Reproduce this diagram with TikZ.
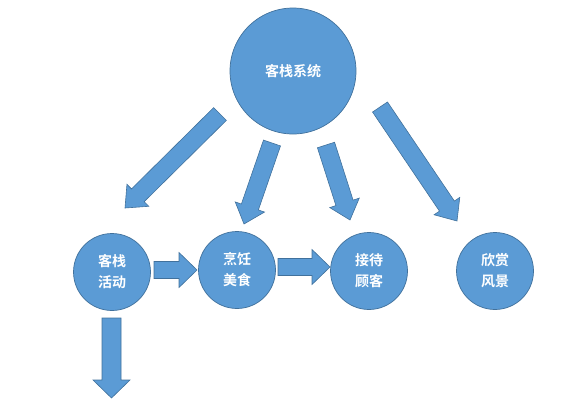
\documentclass[tikz,border=0pt]{standalone}
\usepackage{fontspec}
\newfontfamily\cjk{Noto Sans CJK SC Bold}
\usetikzlibrary{calc}
\definecolor{fillblue}{RGB}{91,155,213}
\definecolor{lineblue}{RGB}{65,113,156}
\begin{document}
\begin{tikzpicture}[
	x=1pt, y=-1pt,
	ball/.style={
		circle, draw=lineblue, fill=fillblue, line width=0.7pt,
		text=white, font=\cjk\fontsize{14}{21}\selectfont, align=center, inner sep=0pt
	},
	bigball/.style={ball, minimum size=126pt},
	smallball/.style={ball, minimum size=77pt},
	% #1 = half shaft width, #2 = half head width
	blockarr/.style 2 args={
		draw=lineblue, fill=fillblue, line width=0.6pt,
		to path={
			let \p1=($(\tikztotarget)-(\tikztostart)$),
			\n1={atan2(\y1,\x1)}, \n2={veclen(\x1,\y1)-18} in
			($(\tikztostart)+(\n1+90:#1)$) -- ++(\n1:\n2) -- ++(\n1+90:#2-#1)
			-- (\tikztotarget)
			-- ($(\tikztostart)+(\n1:\n2)+(\n1-90:#2)$) -- ++(\n1+90:#2-#1)
			-- ($(\tikztostart)+(\n1-90:#1)$) -- cycle
		}
	},
	slant/.style={blockarr={9pt}{15.5pt}},
	flat/.style={blockarr={8.5pt}{17.5pt}},
	]
	\useasboundingbox (0,0) rectangle (575,400);
	
	\node[bigball]   (sys)   at (293, 71)  {客栈系统};
	\node[smallball] (act)   at (112, 272) {客栈\\活动};
	\node[smallball] (food)  at (237, 270) {烹饪\\美食};
	\node[smallball] (guest) at (369, 271) {接待\\顾客};
	\node[smallball] (view)  at (495, 271) {欣赏\\风景};
	
	% ends of the block arrows
	\coordinate (a1) at (220, 114); \coordinate (a2) at (125, 208);
	\coordinate (b1) at (272, 143); \coordinate (b2) at (244, 224);
	\coordinate (c1) at (326, 145); \coordinate (c2) at (350, 220);
	\coordinate (d1) at (380, 107); \coordinate (d2) at (457, 221);
	\coordinate (e1) at (154, 270); \coordinate (e2) at (197, 270);
	\coordinate (f1) at (278, 267); \coordinate (f2) at (330, 267);
	\coordinate (g1) at (111.5, 318); \coordinate (g2) at (111.5, 398);
	
	\draw[slant] (a1) to (a2);
	\draw[slant] (b1) to (b2);
	\draw[slant] (c1) to (c2);
	\draw[slant] (d1) to (d2);
	\draw[flat] (e1) to (e2);
	\draw[flat] (f1) to (f2);
	\draw[blockarr={9.5pt}{18.5pt}] (g1) to (g2);
	
\end{tikzpicture}
\end{document}
